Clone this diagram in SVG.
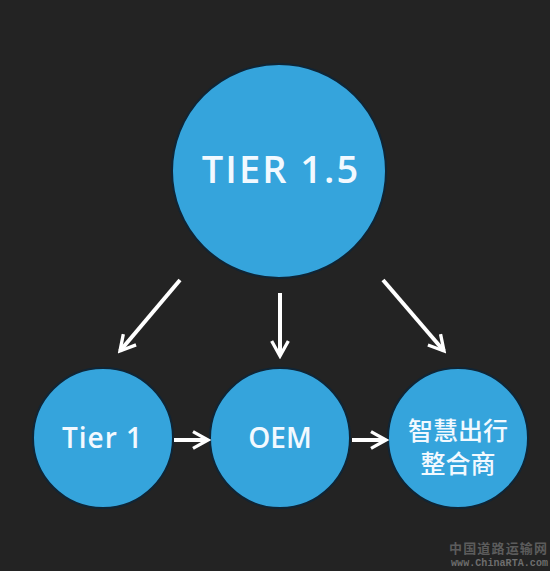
<svg xmlns="http://www.w3.org/2000/svg" width="550" height="571" viewBox="0 0 550 571">
  <defs>
    <style>
      .node { fill: #35a4dc; stroke: #0f2536; stroke-width: 2; }
      .lbl { fill: #f2f9ff; font-family: "Open Sans", "Noto Sans", sans-serif; font-weight: 600; text-anchor: middle; }
      .cjk { fill: #f2f9ff; font-family: "Noto Sans CJK SC", sans-serif; font-weight: 500; text-anchor: middle; }
      .conn { stroke: #ffffff; stroke-width: 4; fill: none; stroke-linecap: butt; }
      .wm1 { fill: #5c5c5c; font-family: "Noto Sans CJK SC", sans-serif; font-weight: 700; font-size: 13px; }
      .wm2 { fill: #6e6e6e; font-family: "Liberation Mono", monospace; font-weight: 700; font-size: 10px; }
    </style>
    <marker id="arr" viewBox="0 0 12 12" refX="10" refY="6" markerWidth="5" markerHeight="5" orient="auto" markerUnits="strokeWidth">
      <path d="M1,1 L10,6 L1,11" fill="none" stroke="#ffffff" stroke-width="2"/>
    </marker>
  </defs>
  <rect width="550" height="571" fill="#232323"/>

  <g id="tier15">
    <circle class="node" cx="279" cy="171" r="107"/>
    <text class="lbl" x="281" y="183" font-size="38" letter-spacing="2">TIER 1.5</text>
  </g>
  <g id="tier1">
    <circle class="node" cx="103" cy="438" r="70"/>
    <text class="lbl" x="102.5" y="448" font-size="28" letter-spacing="1">Tier 1</text>
  </g>
  <g id="oem">
    <circle class="node" cx="280" cy="438" r="70"/>
    <text class="lbl" x="280" y="448" font-size="28">OEM</text>
  </g>
  <g id="mobility">
    <circle class="node" cx="458" cy="438" r="70"/>
    <text class="cjk" x="458" y="440" font-size="25">智慧出行</text>
    <text class="cjk" x="458" y="473" font-size="25">整合商</text>
  </g>

  <g id="connectors">
    <line class="conn" x1="180" y1="280" x2="120" y2="351" marker-end="url(#arr)"/>
    <line class="conn" x1="280" y1="293" x2="280" y2="356" marker-end="url(#arr)"/>
    <line class="conn" x1="383" y1="280" x2="444" y2="351" marker-end="url(#arr)"/>
    <line class="conn" x1="174" y1="440" x2="208" y2="440" marker-end="url(#arr)"/>
    <line class="conn" x1="352" y1="440" x2="386" y2="440" marker-end="url(#arr)"/>
  </g>

  <g id="watermark">
    <text class="wm1" x="449" y="553" textLength="98">中国道路运输网</text>
    <text class="wm2" x="451" y="566" textLength="97">www.ChinaRTA.com</text>
  </g>
</svg>
